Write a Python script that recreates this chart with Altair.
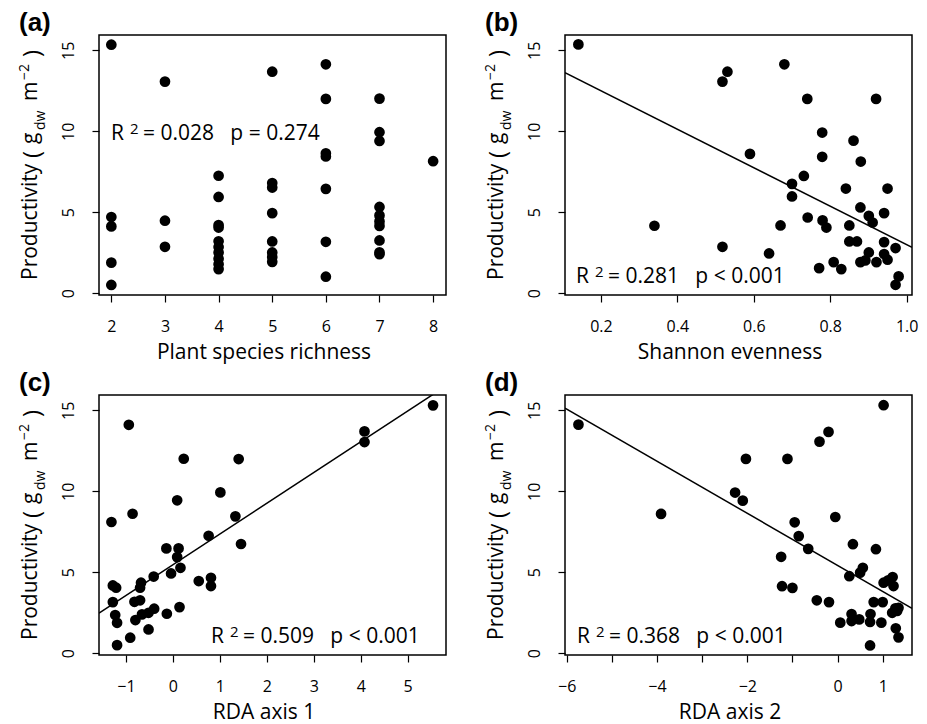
import altair as alt
import pandas as pd

# ---------------- data ----------------
# (a) plant species richness
richness = [2, 2, 2, 2, 2,
            3, 3, 3,
            4, 4, 4, 4, 4, 4, 4, 4, 4, 4,
            5, 5, 5, 5, 5, 5, 5, 5,
            6, 6, 6, 6, 6, 6, 6,
            7, 7, 7, 7, 7, 7, 7, 7, 7, 7,
            8]
prod_a = [15.35, 4.70, 4.12, 1.88, 0.50,
          13.07, 4.47, 2.86,
          7.25, 5.94, 4.20, 4.05, 3.20, 2.85, 2.50, 2.12, 1.78, 1.48,
          13.68, 6.80, 6.52, 4.94, 3.19, 2.51, 2.22, 1.93,
          14.14, 12.00, 8.64, 8.44, 6.44, 3.17, 1.01,
          12.02, 9.94, 9.40, 5.32, 4.80, 4.43, 4.15, 3.25, 2.52, 2.40,
          8.15]

# (b) Shannon evenness
evenness = [0.141, 0.340, 0.518, 0.531, 0.518, 0.590, 0.640, 0.670, 0.680, 0.700,
            0.700, 0.731, 0.740, 0.741, 0.771, 0.779, 0.779, 0.780, 0.790, 0.809,
            0.829, 0.841, 0.850, 0.850, 0.861, 0.870, 0.880, 0.879, 0.879, 0.892,
            0.901, 0.901, 0.911, 0.920, 0.921, 0.941, 0.941, 0.941, 0.950, 0.950,
            0.971, 0.979, 0.971]
prod_b = [15.37, 4.16, 13.07, 13.68, 2.86, 8.60, 2.45, 4.18, 14.14, 6.75,
          5.97, 7.24, 12.00, 4.67, 1.54, 9.92, 8.42, 4.49, 4.05, 1.91,
          1.48, 6.46, 4.18, 3.19, 9.42, 3.19, 8.13, 5.29, 1.91, 2.02,
          4.77, 2.51, 4.36, 12.00, 1.91, 4.94, 3.15, 2.41, 6.46, 2.06,
          2.78, 1.03, 0.51]

# (c) RDA axis 1
rda1 = [5.54, 4.08, 4.08, -0.94, 0.23, 1.40, 1.01, 0.09, -0.86, -1.31,
        1.33, 0.76, 1.45, -0.14, 0.12, 0.09, 0.16, -0.04, -0.41, 0.55,
        0.81, 0.81, -0.68, -0.70, -1.28, -1.21, -1.28, -0.82, -0.70, -0.40,
        -0.52, -0.66, -0.80, -1.23, -1.19, -0.13, 0.14, -0.52, -0.91, -1.19]
prod_c = [15.31, 13.70, 13.04, 14.11, 12.01, 11.99, 9.93, 9.44, 8.61, 8.10,
          8.45, 7.25, 6.74, 6.47, 6.47, 5.93, 5.27, 4.92, 4.73, 4.45,
          4.65, 4.14, 4.35, 4.04, 4.18, 4.04, 3.15, 3.17, 3.26, 2.74,
          2.49, 2.39, 2.04, 2.35, 1.87, 2.43, 2.84, 1.46, 0.95, 0.49]

# (d) RDA axis 2
rda2 = [-5.74, -3.91, 1.02, -2.27, -2.10, -2.03, -1.11, -0.40, -0.20, -0.05,
        -0.95, -0.86, -0.65, -1.25, -1.23, -1.00, -0.46, -0.19, 0.34, 0.85,
        0.26, 0.50, 0.56, 1.02, 1.12, 1.22, 1.24, 0.80, 1.00, 1.28,
        1.35, 1.21, 1.32, 0.31, 0.31, 0.48, 0.06, 0.73, 0.72, 0.97,
        1.29, 1.35, 0.72]
prod_d = [14.12, 8.60, 15.32, 9.92, 9.42, 12.00, 12.00, 13.07, 13.67, 8.41,
          8.08, 7.23, 6.44, 5.95, 4.13, 4.03, 3.26, 3.15, 6.73, 6.42,
          4.75, 4.97, 5.27, 4.35, 4.49, 4.70, 4.14, 3.15, 3.15, 2.76,
          2.80, 2.49, 2.60, 2.41, 1.98, 2.08, 1.88, 2.41, 1.92, 1.88,
          1.53, 0.97, 0.47]

# fitted lines (intercept, slope)
fit_b = (14.88, -11.885)
fit_c = (5.46, 1.90)
fit_d = (5.42, -1.609)

NB = "\u00a0"
labels = ["(a)", "(b)", "(c)", "(d)"]
x_titles = ["Plant species richness", "Shannon evenness", "RDA axis 1", "RDA axis 2"]
stats = ["=" + NB + "0.028" + NB * 3 + "p" + NB + "=" + NB + "0.274",
         "=" + NB + "0.281" + NB * 3 + "p" + NB + "<" + NB + "0.001",
         "=" + NB + "0.509" + NB * 3 + "p" + NB + "<" + NB + "0.001",
         "=" + NB + "0.368" + NB * 3 + "p" + NB + "<" + NB + "0.001"]

# ---------------- layout constants ----------------
W, H = 347, 260
Y_DOMAIN = [-0.12, 15.95]
FONT = "Open Sans"
one = pd.DataFrame({"k": [0]})


def txt(s, x, y, size=21, angle=0, weight="normal", font=FONT):
    return alt.Chart(one).mark_text(
        text=s, align="left", baseline="alphabetic", fontSize=size,
        angle=angle, font=font, fontWeight=weight, color="black"
    ).encode(x=alt.value(x), y=alt.value(y))


def y_title():
    return [
        txt("Productivity", -62, 245, 21, 270),
        txt("(", -59, 123, 24, 270),
        txt("g", -62, 109, 21, 270),
        txt("dw", -54, 95, 14, 270),
        txt("m", -62, 66, 21, 270),
        txt("\u22122", -70, 45, 14, 270),
        txt(")", -59, 22, 24, 270),
    ]


def stat_text(s, x0, y0):
    return [txt("R", x0, y0, 21), txt("2", x0 + 19, y0 - 6, 15), txt(s, x0 + 32, y0, 21)]


def panel(xv, yv, xdom, xticks, xtitle, label, stat, stat_pos, fit=None,
          fmt=None, label_expr=None):
    df = pd.DataFrame({"x": xv, "y": yv})
    axis_kw = dict(values=xticks, title=xtitle, titleY=63, titleX=W / 2 - 9,
                   titleBaseline="alphabetic", labelBaseline="alphabetic",
                   labelPadding=29, labelFlush=False, labelOverlap=False)
    if fmt:
        axis_kw["format"] = fmt
    if label_expr:
        axis_kw["labelExpr"] = label_expr
    xenc = alt.X("x:Q", scale=alt.Scale(domain=xdom, nice=False, zero=False),
                 axis=alt.Axis(**axis_kw))
    yenc = alt.Y("y:Q", scale=alt.Scale(domain=Y_DOMAIN, nice=False, zero=False),
                 axis=alt.Axis(values=[0, 5, 10, 15], title=None, labelAngle=270,
                               labelAlign="center", labelBaseline="alphabetic",
                               labelPadding=19, labelFlush=False, labelOverlap=False))
    pts = alt.Chart(df).mark_circle(size=115, color="black", opacity=1).encode(x=xenc, y=yenc)
    layers = [pts]
    if fit is not None:
        a, b = fit
        ldf = pd.DataFrame({"x": [xdom[0], xdom[1]],
                            "y": [a + b * xdom[0], a + b * xdom[1]]})
        layers.append(alt.Chart(ldf).mark_line(color="black", strokeWidth=1.5, clip=True)
                      .encode(x="x:Q", y="y:Q"))
    layers += stat_text(stat, *stat_pos)
    layers += y_title()
    layers.append(txt(label, -80, -4, 26, 0, "bold", "Liberation Sans"))
    return alt.layer(*layers).properties(width=W, height=H)


pa = panel(richness, prod_a, [1.77, 8.24], [2, 3, 4, 5, 6, 7, 8], x_titles[0], labels[0],
           stats[0], (12, 105))
pb = panel(evenness, prod_b, [0.106, 1.014], [0.2, 0.4, 0.6, 0.8, 1.0], x_titles[1], labels[1],
           stats[1], (11, 248), fit=fit_b, fmt=".1f")
pc = panel(rda1, prod_c, [-1.575, 5.816], [-1, 0, 1, 2, 3, 4, 5], x_titles[2], labels[2],
           stats[2], (112, 248), fit=fit_c)
pd_ = panel(rda2, prod_d, [-6.038, 1.649], [-6, -5, -4, -3, -2, -1, 0, 1], x_titles[3], labels[3],
            stats[3], (12, 248), fit=fit_d,
            label_expr="indexof([-6, -4, -2, 0, 1], datum.value) >= 0 ? datum.label : ''")

chart = alt.concat(pa, pb, pc, pd_, columns=2, spacing=alt.RowColnumber(row=100, column=119),
                   bounds="flush").properties(
    padding={"left": 17, "top": 9, "right": 5, "bottom": 3},
    background="white",
).configure_view(stroke="black", strokeWidth=1.5).configure_axis(
    domain=False, grid=False, ticks=True, tickColor="black", tickWidth=1.2, tickSize=7,
    labelFont=FONT, labelFontSize=16, labelColor="black",
    titleFont=FONT, titleFontSize=21, titleColor="black", titleFontWeight="normal",
)

chart.save("out.html", embed_options={"renderer": "svg", "actions": False})
